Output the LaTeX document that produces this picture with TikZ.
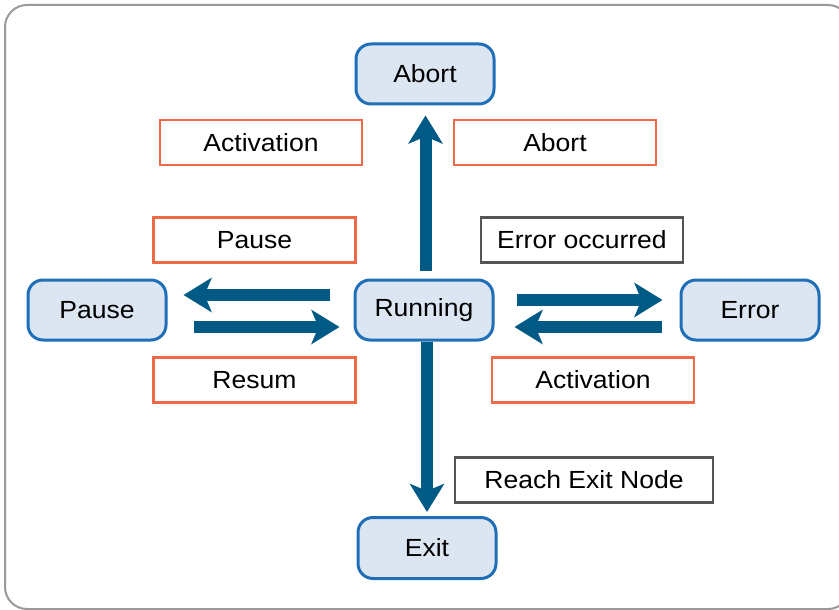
\documentclass[tikz,border=0pt]{standalone}
\usepackage{fontspec}
\setmainfont{Liberation Sans}[FakeStretch=1.07]
\usetikzlibrary{arrows.meta}
\definecolor{nodefill}{HTML}{DCE6F2}
\definecolor{nodeline}{HTML}{1F6FB8}
\definecolor{arrowcol}{HTML}{005A86}
\definecolor{orangeline}{HTML}{EC6A45}
\definecolor{grayline}{HTML}{555555}
\definecolor{frameline}{HTML}{9A9A9A}
\tikzset{
  state/.style={draw=nodeline, fill=nodefill, line width=3pt, rounded corners=15pt,
    minimum width=138pt, minimum height=60pt, inner sep=0pt,
    font=\fontsize{24.8}{28}\selectfont},
  lbl/.style={draw=orangeline, fill=white, line width=2.6pt,
    minimum width=202pt, minimum height=45pt, inner sep=0pt,
    font=\fontsize{24.8}{28}\selectfont},
  glbl/.style={lbl, draw=grayline},
  flow/.style={draw=arrowcol, line width=12pt,
    -{Stealth[length=28pt,width=34pt,inset=7pt]}}
}
\begin{document}
\begin{tikzpicture}[x=1pt,y=-1pt]
\useasboundingbox (0,0) rectangle (839,610);
\fill[white] (0,0) rectangle (839,610);
\draw[frameline, line width=2pt, rounded corners=22pt] (5,5) rectangle (850,609);

\node[state] (abort) at (425,74) {Abort};
\node[state] (run) at (424,310) {Running};
\node[state] (pause) at (97,310) {Pause};
\node[state] (error) at (750,310) {Error};
\node[state, minimum height=61pt] (exit) at (427,548) {Exit};

\node[lbl] (lact1) at (261,142.5) {Activation};
\node[lbl] (labort) at (555,142.5) {Abort};
\node[lbl] (lpause) at (254.5,240) {Pause};
\node[glbl] (lerr) at (582,240) {Error occurred};
\node[lbl] (lresum) at (254.5,380) {Resum};
\node[lbl] (lact2) at (593,380) {Activation};
\node[glbl, minimum width=258pt] (lexit) at (584,480) {Reach Exit Node};

\draw[flow, shorten <=8pt, shorten >=10pt] ([xshift=1.5pt]run.north) -- ([xshift=0.5pt]abort.south);
\draw[flow, shorten >=4pt] ([xshift=3pt]run.south) -- (exit.north);
\draw[flow, shorten <=24pt, shorten >=16pt] ([yshift=15pt]run.west) -- ([yshift=15pt]pause.east);
\draw[flow, shorten <=26pt, shorten >=14pt] ([yshift=-17pt]pause.east) -- ([yshift=-17pt]run.west);
\draw[flow, shorten <=22pt, shorten >=17pt] ([yshift=10pt]run.east) -- ([yshift=10pt]error.west);
\draw[flow, shorten <=18pt, shorten >=20pt] ([yshift=-17pt]error.west) -- ([yshift=-17pt]run.east);
\end{tikzpicture}
\end{document}
